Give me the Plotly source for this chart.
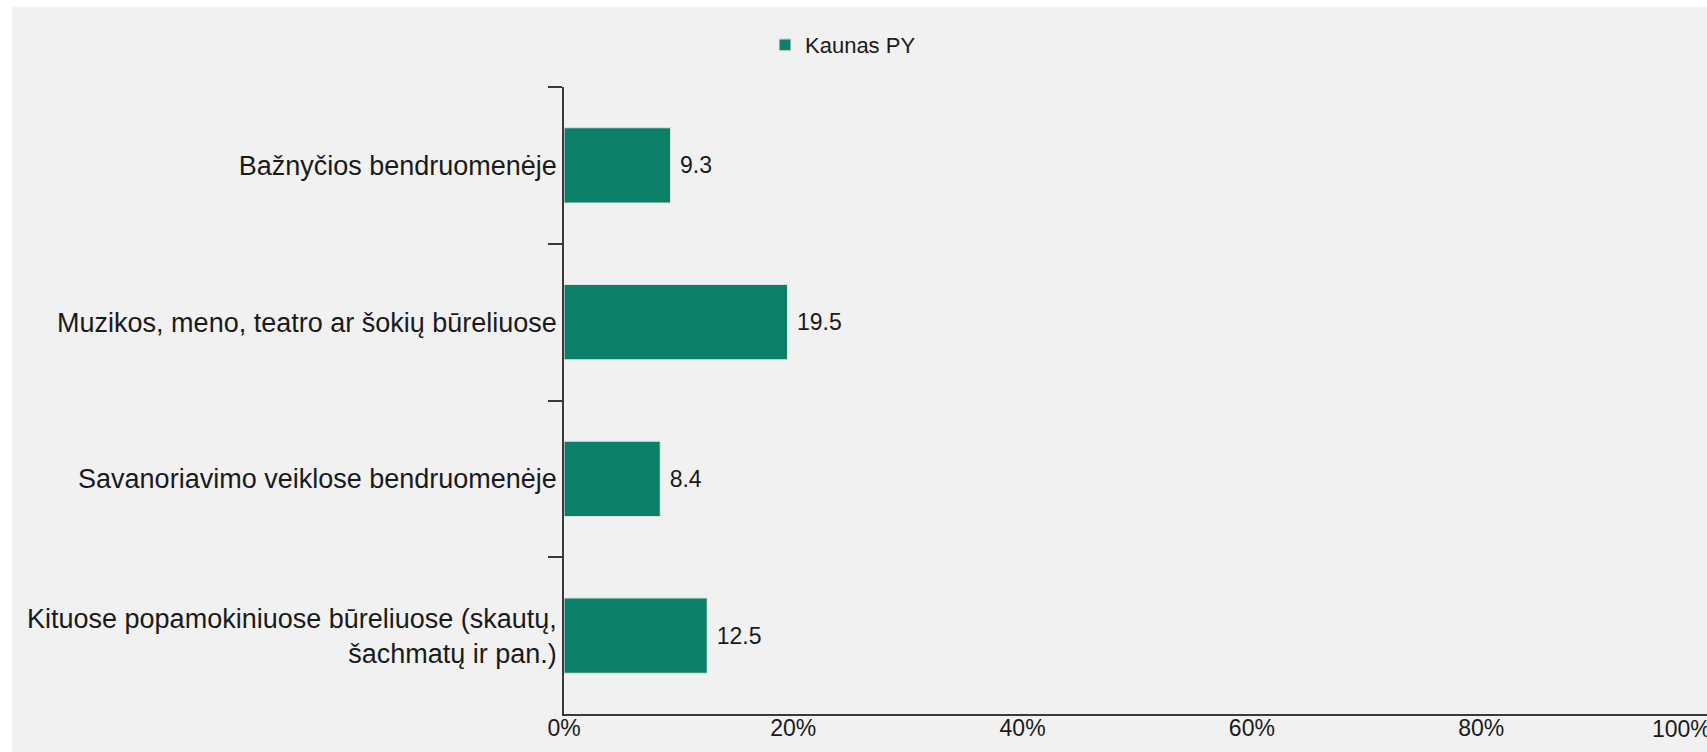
import plotly.graph_objects as go

# Survey categories (top to bottom) and shares in percent
categories = [
    "Bažnyčios bendruomenėje",
    "Muzikos, meno, teatro ar šokių būreliuose",
    "Savanoriavimo veiklose bendruomenėje",
    "Kituose popamokiniuose būreliuose (skautų,<br>šachmatų ir pan.)",
]
values_kaunas = [9.3, 19.5, 8.4, 12.5]
series_name = "Kaunas PY"

x_tick_vals = [0, 20, 40, 60, 80]
x_tick_text = ["0%", "20%", "40%", "60%", "80%"]
last_tick_text = "100%"

W, H = 1707, 752
M_L, M_R, M_T, M_B = 564, 0, 87, 38
plot_w = W - M_L - M_R
plot_h = H - M_T - M_B

FONT = "Liberation Sans, Arial, Helvetica, sans-serif"
BAR_COLOR = "#0B7F67"
PANEL = "#F1F1F1"
AXIS = "#3a3a3a"
TEXT = "#1a1a1a"

fig = go.Figure()
fig.add_trace(
    go.Bar(
        x=values_kaunas,
        y=categories,
        orientation="h",
        name=series_name,
        width=0.48,
        marker=dict(color=BAR_COLOR, line=dict(color="#E2E2E2", width=1.2)),
        text=values_kaunas,
        texttemplate="\u00a0%{x}",
        textposition="outside",
        cliponaxis=False,
        textfont=dict(family=FONT, size=23, color=TEXT),
        showlegend=True,
    )
)

def px_x(px):
    return (px - M_L) / plot_w

def px_y(py):
    return (H - M_B - py) / plot_h

# grey chart panel with a thin white frame on the top and left
fig.add_shape(
    type="rect", xref="paper", yref="paper", layer="below",
    x0=px_x(12), x1=px_x(W + 5), y0=px_y(H + 5), y1=px_y(7),
    fillcolor=PANEL, line=dict(width=0),
)

# label for the 100% gridline at the right edge
fig.add_annotation(
    xref="paper", yref="paper", x=px_x(1650), y=0,
    xanchor="left", yanchor="top", yshift=0,
    text=last_tick_text, showarrow=False,
    font=dict(family=FONT, size=23, color=TEXT),
)

fig.update_layout(
    width=W, height=H,
    margin=dict(l=M_L, r=M_R, t=M_T, b=M_B, pad=0),
    paper_bgcolor="white",
    plot_bgcolor="rgba(0,0,0,0)",
    font=dict(family=FONT, color=TEXT),
    showlegend=True,
    legend=dict(
        orientation="h", x=px_x(765), xanchor="left",
        y=px_y(45), yanchor="middle",
        bgcolor="rgba(0,0,0,0)",
        font=dict(family=FONT, size=22, color=TEXT),
    ),
    bargap=0.52,
)

fig.update_xaxes(
    range=[0, 99.7],
    tickvals=x_tick_vals, ticktext=x_tick_text,
    showgrid=False, zeroline=False,
    showline=True, linecolor=AXIS, linewidth=1.5,
    ticks="", ticklabelstandoff=-7,
    tickfont=dict(family=FONT, size=23, color=TEXT),
    fixedrange=True,
)
fig.update_yaxes(
    categoryorder="array", categoryarray=categories,
    range=[3.5, -0.5],
    showgrid=False, zeroline=False,
    showline=True, linecolor=AXIS, linewidth=1.5,
    ticks="outside", tickson="boundaries", ticklen=14,
    tickcolor=AXIS, tickwidth=1.5,
    tickfont=dict(family=FONT, size=27, color=TEXT),
    fixedrange=True,
)

fig.write_html("out.html", config={"displayModeBar": False})
